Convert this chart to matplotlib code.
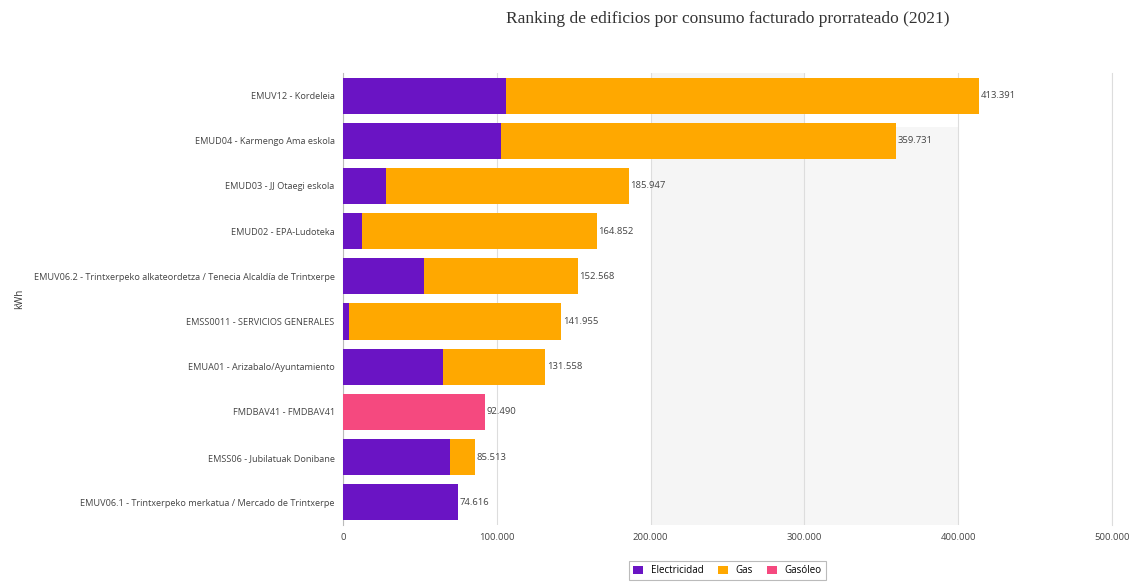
import numpy as np
import matplotlib.pyplot as plt

edificios = ["EMUV12 - Kordeleia",
             "EMUD04 - Karmengo Ama eskola",
             "EMUD03 - JJ Otaegi eskola",
             "EMUD02 - EPA-Ludoteka",
             "EMUV06.2 - Trintxerpeko alkateordetza / Tenecia Alcaldía de Trintxerpe",
             "EMSS0011 - SERVICIOS GENERALES",
             "EMUA01 - Arizabalo/Ayuntamiento",
             "FMDBAV41 - FMDBAV41",
             "EMSS06 - Jubilatuak Donibane",
             "EMUV06.1 - Trintxerpeko merkatua / Mercado de Trintxerpe"]
electricidad = [106000, 102700, 28000, 12400, 52700, 4000, 65000, 0, 69600, 74616]
total = [413391, 359731, 185947, 164852, 152568, 141955, 131558, 92490, 85513, 74616]
gasoleo = [0, 0, 0, 0, 0, 0, 0, 92490, 0, 0]
gas = [t - e - g for t, e, g in zip(total, electricidad, gasoleo)]
xticks = [0, 100000, 200000, 300000, 400000, 500000]

c_elec = "#6a14c4"
c_gas = "#ffa800"
c_gasoleo = "#f5497f"

plt.rcParams['font.family'] = ['Open Sans', 'DejaVu Sans']

fig = plt.figure(figsize=(11.37, 5.82), dpi=100)
ax = fig.add_axes([0.3017, 0.098, 0.6763, 0.7766])

y = np.arange(len(edificios))
e = np.array(electricidad)
g = np.array(gas)
go = np.array(gasoleo)
ax.barh(y, e, height=0.8, color=c_elec, label="Electricidad", zorder=3)
ax.barh(y, g, left=e, height=0.8, color=c_gas, label="Gas", zorder=3)
ax.barh(y, go, left=e + g, height=0.8, color=c_gasoleo, label="Gasóleo", zorder=3)

def fmt(v):
    return f"{v:,.0f}".replace(",", ".")

for yi, t in zip(y, total):
    ax.text(t + 1000, yi, fmt(t), va="center", ha="left", fontsize=6.8, color="#444444", zorder=4)

# light background bands
ax.axvspan(200000, 300000, color="#f5f5f5", zorder=0, lw=0)
ax.axvspan(300000, 400000, ymin=0, ymax=0.88, color="#f6f6f6", zorder=0, lw=0)

ax.set_xlim(0, 500000)
ax.set_ylim(len(edificios) - 0.5, -0.5)
ax.set_xticks(xticks)
ax.set_xticklabels([fmt(v) for v in xticks], fontsize=6.8, color="#444444")
ax.set_yticks(y)
ax.set_yticklabels(edificios, fontsize=6.6, color="#444444")
ax.tick_params(axis="both", length=0, pad=6)
ax.grid(axis="x", color="#dddddd", lw=0.8, zorder=1)
for s in ["top", "bottom"]:
    ax.spines[s].set_visible(False)
ax.spines["left"].set_color("#bbbbbb")
ax.spines["right"].set_color("#dddddd")
ax.set_ylabel("kWh", fontsize=7, color="#333333")
ax.yaxis.set_label_coords(-0.414, 0.5)

fig.text(0.64, 0.967, "Ranking de edificios por consumo facturado prorrateado (2021)",
         ha="center", va="center", fontsize=12.5, family="Liberation Serif", color="#333333")

leg = ax.legend(loc="upper center", bbox_to_anchor=(0.5, -0.07), ncol=3, fontsize=7,
                frameon=True, handlelength=1.0, handleheight=0.9, columnspacing=1.5,
                fancybox=False, edgecolor="#aaaaaa")
leg.get_frame().set_linewidth(0.8)

fig.savefig("out.png", dpi=100)
